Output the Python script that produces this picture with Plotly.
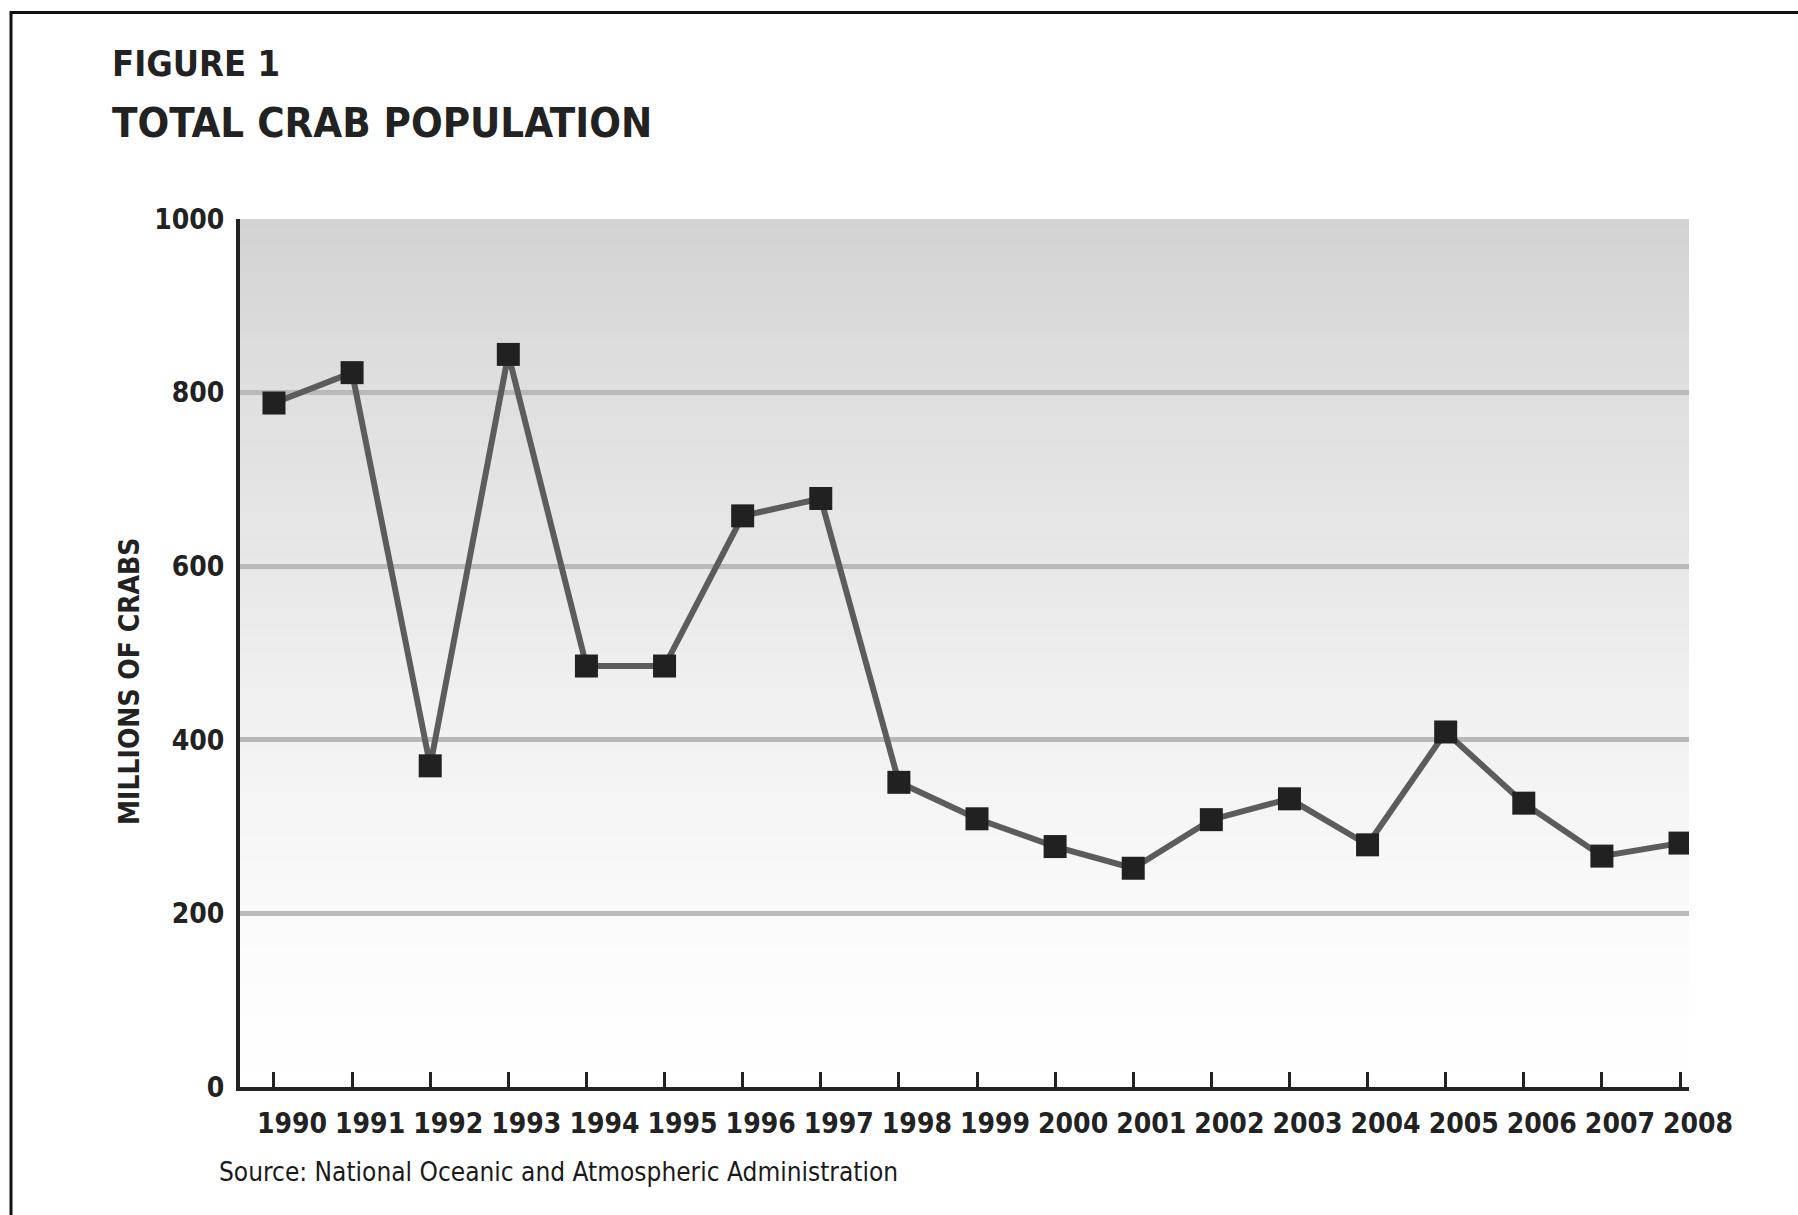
import plotly.graph_objects as go

# Total crab population, millions of crabs
years = [1990, 1991, 1992, 1993, 1994, 1995, 1996, 1997, 1998, 1999,
         2000, 2001, 2002, 2003, 2004, 2005, 2006, 2007, 2008]
crabs = [788, 823, 370, 844, 485, 485, 658, 678, 351, 309,
         277, 252, 308, 332, 279, 409, 327, 266, 281]
y_ticks = [0, 200, 400, 600, 800, 1000]
x_labels = [str(y) for y in years]

W, H = 1798, 1215
L, R, T, B = 240, 1689, 219, 1087          # plot-area edges in px
X0, X1 = 1989.565, 2008.115
Y0, Y1 = 0, 1000

def px(x):
    return (x - L) / (R - L)

def py(y):
    return (B - y) / (B - T)

FONT = "DejaVu Sans Condensed"
INK = "#222222"

fig = go.Figure()

fig.add_trace(go.Scatter(
    x=years, y=crabs, mode="lines+markers",
    line=dict(color="#5c5c5c", width=6),
    marker=dict(symbol="square", size=23, color="#212121",
                line=dict(width=0)),
    showlegend=False, hoverinfo="x+y",
))

# soft grey background, darker toward the top of the plot
ramp = [(0.0, 255), (0.15, 252), (0.3, 246), (0.45, 240),
        (0.6, 232), (0.8, 223), (1.0, 211)]

def shade(t):
    for (a, ca), (b, cb) in zip(ramp[:-1], ramp[1:]):
        if a <= t <= b:
            return ca + (cb - ca) * (t - a) / (b - a)
    return ramp[-1][1]

shapes = []
n = 100
for i in range(n):
    lo = Y0 + (Y1 - Y0) * i / n
    hi = Y0 + (Y1 - Y0) * (i + 1) / n
    g = int(round(shade((i + 0.5) / n)))
    shapes.append(dict(type="rect", xref="x", yref="y", layer="below",
                       x0=X0, x1=X1, y0=lo, y1=hi + 2,
                       fillcolor=f"rgb({g},{g},{g})", line=dict(width=0)))

# outer frame
shapes.append(dict(type="rect", xref="paper", yref="paper", layer="above",
                   x0=px(11), x1=px(1805), y0=py(1222), y1=py(12.5),
                   line=dict(color="#111111", width=3),
                   fillcolor="rgba(0,0,0,0)"))

annotations = [
    dict(text="<b>FIGURE 1</b>", x=px(110), y=py(64), xref="paper", yref="paper",
         xanchor="left", yanchor="middle", showarrow=False,
         font=dict(family=FONT, size=36, color=INK)),
    dict(text="<b>TOTAL CRAB POPULATION</b>", x=px(110), y=py(122),
         xref="paper", yref="paper", xanchor="left", yanchor="middle",
         showarrow=False, font=dict(family=FONT, size=41.5, color=INK)),
    dict(text="<b>MILLIONS OF CRABS</b>", x=px(129), y=py(682),
         xref="paper", yref="paper", xanchor="center", yanchor="middle",
         textangle=-90, showarrow=False,
         font=dict(family=FONT, size=28, color=INK)),
    dict(text="Source: National Oceanic and Atmospheric Administration",
         x=px(217), y=py(1172), xref="paper", yref="paper",
         xanchor="left", yanchor="middle", showarrow=False,
         font=dict(family=FONT, size=26, color="#1a1a1a")),
]

fig.update_layout(
    width=W, height=H, autosize=False,
    margin=dict(l=L, r=W - R, t=T, b=H - B, pad=0),
    paper_bgcolor="white", plot_bgcolor="white",
    shapes=shapes, annotations=annotations,
    showlegend=False,
)

fig.update_xaxes(
    range=[X0, X1], tickmode="array", tickvals=years, ticktext=x_labels,
    ticks="inside", ticklen=15, tickwidth=3, tickcolor=INK,
    showline=True, linecolor=INK, linewidth=4,
    showgrid=False, zeroline=False,
    ticklabelstandoff=8, ticklabelshift=18,
    tickfont=dict(family=FONT, size=28, color=INK, weight="bold"),
)
fig.update_yaxes(
    range=[Y0, Y1], tickmode="array", tickvals=y_ticks,
    ticktext=[str(v) for v in y_ticks],
    ticks="", showline=True, linecolor=INK, linewidth=4,
    showgrid=True, gridcolor="#b9b9b9", gridwidth=5,
    zeroline=False, ticklabelstandoff=6,
    tickfont=dict(family=FONT, size=28, color=INK, weight="bold"),
)

fig.write_html("out.html")
